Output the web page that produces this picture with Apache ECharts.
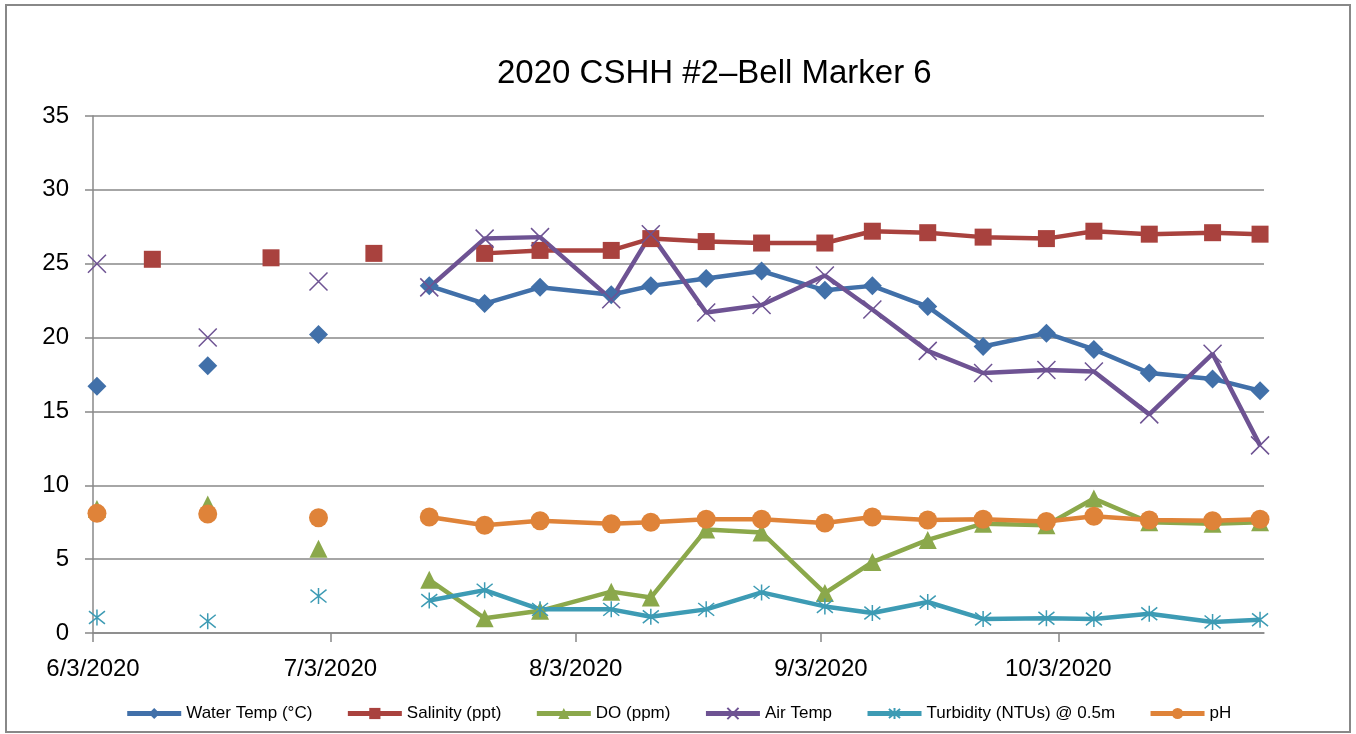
<!DOCTYPE html>
<html>
<head>
<meta charset="utf-8">
<title>2020 CSHH #2–Bell Marker 6</title>
<script src="https://cdn.jsdelivr.net/npm/echarts@6/dist/echarts.min.js"></script>
<style>
  html, body { margin: 0; padding: 0; background: #fff; }
  #chart { width: 1356px; height: 734px; }
</style>
</head>
<body>
<div id="chart"></div>
<script>
// sampling dates (one row per visit)
var dates = ['2020-06-03', '2020-06-10', '2020-06-17', '2020-06-25', '2020-07-01', '2020-07-08',
  '2020-07-15', '2020-07-22', '2020-07-29', '2020-08-07', '2020-08-12', '2020-08-19', '2020-08-26',
  '2020-09-03', '2020-09-09', '2020-09-16', '2020-09-23', '2020-10-01', '2020-10-07', '2020-10-14',
  '2020-10-22', '2020-10-28'];

var waterTemp = [16.7, null, 18.1, null, 20.2, null, 23.5, 22.3, 23.4, 22.9, 23.5, 24.0, 24.5,
  23.2, 23.5, 22.1, 19.4, 20.3, 19.2, 17.6, 17.2, 16.4];
var salinity = [null, 25.3, null, 25.4, null, 25.7, null, 25.7, 25.9, 25.9, 26.7, 26.5, 26.4,
  26.4, 27.2, 27.1, 26.8, 26.7, 27.2, 27.0, 27.1, 27.0];
var dissolvedO2 = [8.4, null, 8.7, null, 5.7, null, 3.6, 1.0, 1.5, 2.8, 2.4, 7.0, 6.8,
  2.7, 4.8, 6.3, 7.4, 7.3, 9.1, 7.5, 7.4, 7.5];
var airTemp = [25.0, null, 20.0, null, 23.8, null, 23.4, 26.7, 26.8, 22.6, 27.0, 21.7, 22.2,
  24.2, 21.9, 19.1, 17.6, 17.8, 17.7, 14.8, 18.9, 12.7];
var turbidity = [1.05, null, 0.8, null, 2.5, null, 2.2, 2.9, 1.6, 1.6, 1.1, 1.6, 2.75,
  1.8, 1.35, 2.1, 0.95, 1.0, 0.95, 1.3, 0.75, 0.9];
var pH = [8.1, null, 8.05, null, 7.8, null, 7.85, 7.3, 7.6, 7.4, 7.5, 7.7, 7.7,
  7.45, 7.85, 7.65, 7.7, 7.55, 7.9, 7.65, 7.6, 7.7];

// x axis (date axis, monthly labels)
var axisStart = '2020-06-03';
var axisEnd = '2020-10-29';
var tickDates = ['2020-06-03', '2020-07-03', '2020-08-03', '2020-09-03', '2020-10-03'];
var tickLabels = ['6/3/2020', '7/3/2020', '8/3/2020', '9/3/2020', '10/3/2020'];

var FONT = 'Liberation Sans';
var GRAY = '#888888';

function dayOf(d) {
  var p = d.split('-');
  var p0 = axisStart.split('-');
  return (Date.UTC(+p[0], p[1] - 1, +p[2]) - Date.UTC(+p0[0], p0[1] - 1, +p0[2])) / 86400000;
}

// excel places each date in the middle of its day
function pairs(vals) {
  return dates.map(function (d, i) {
    return [dayOf(d) + 0.5, vals[i] == null ? '-' : vals[i]];
  });
}

var tickDays = tickDates.map(dayOf);

function mkSeries(name, vals, color, symbol, size, extra) {
  var s = {
    name: name,
    type: 'line',
    data: pairs(vals),
    symbol: symbol,
    symbolSize: size,
    showSymbol: true,
    connectNulls: false,
    color: color,
    lineStyle: { color: color, width: 4.5 },
    itemStyle: { color: color },
    emphasis: { disabled: true },
    animation: false
  };
  if (extra) {
    s.itemStyle = extra;
  }
  return s;
}

var crossPath = 'path://M0,0L10,10M10,0L0,10';
var starPath = 'path://M1,1L9,9M9,1L1,9M5,0L5,10';

var myChart = echarts.init(document.getElementById('chart'));
var option = {
  backgroundColor: '#fff',
  animation: false,
  title: {
    text: '2020 CSHH #2–Bell Marker 6',
    left: 492,
    top: 52,
    textStyle: { fontFamily: FONT, fontSize: 33, fontWeight: 'normal', color: '#000' }
  },
  graphic: [
    {
      type: 'rect',
      shape: { x: 6, y: 5, width: 1344, height: 727 },
      style: { fill: 'none', stroke: GRAY, lineWidth: 2 },
      silent: true
    }
  ],
  legend: {
    top: 700,
    left: 'center',
    itemWidth: 54,
    itemHeight: 14,
    itemGap: 33,
    lineStyle: { width: 5 },
    textStyle: { fontFamily: FONT, fontSize: 17, color: '#000' }
  },
  grid: {
    left: 93,
    right: 92,
    top: 116,
    bottom: 101,
    containLabel: false
  },
  xAxis: {
    type: 'value',
    min: 0,
    max: dayOf(axisEnd),
    axisLine: { show: true, onZero: false, lineStyle: { color: GRAY, width: 1.5 } },
    axisTick: { show: true, length: 9, customValues: tickDays, lineStyle: { color: GRAY, width: 1.5 } },
    splitLine: { show: false },
    axisLabel: {
      customValues: tickDays,
      margin: 24,
      fontFamily: FONT,
      fontSize: 24,
      color: '#000',
      formatter: function (v) {
        var i = tickDays.indexOf(v);
        return i >= 0 ? tickLabels[i] : '';
      }
    }
  },
  yAxis: {
    type: 'value',
    min: 0,
    max: 35,
    interval: 5,
    axisLine: { show: true, lineStyle: { color: GRAY, width: 1.5 } },
    axisTick: { show: true, length: 8, lineStyle: { color: GRAY, width: 1.5 } },
    splitLine: { show: true, lineStyle: { color: GRAY, width: 1.5 } },
    axisLabel: { margin: 24, fontFamily: FONT, fontSize: 24, color: '#000' }
  },
  series: [
    mkSeries('Water Temp (°C)', waterTemp, '#4170a9', 'diamond', 19),
    mkSeries('Salinity (ppt)', salinity, '#a9423e', 'rect', 17),
    mkSeries('DO (ppm)', dissolvedO2, '#8ba84b', 'triangle', 18),
    mkSeries('Air Temp', airTemp, '#6e5393', crossPath, 18,
      { color: '#6e5393', borderColor: '#6e5393', borderWidth: 1.5 }),
    mkSeries('Turbidity (NTUs) @ 0.5m', turbidity, '#3d9bb4', starPath, 16,
      { color: '#3d9bb4', borderColor: '#3d9bb4', borderWidth: 1.5 }),
    mkSeries('pH', pH, '#df8339', 'circle', 19)
  ]
};
option && myChart.setOption(option);
</script>
</body>
</html>
